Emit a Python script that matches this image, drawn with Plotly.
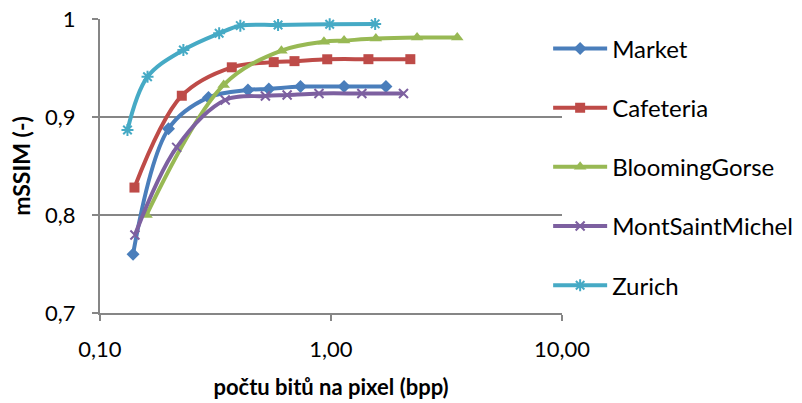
import plotly.graph_objects as go

market_x = [0.139, 0.198, 0.295, 0.437, 0.538, 0.738, 1.139, 1.729]
market_y = [0.760, 0.888, 0.920, 0.9276, 0.9286, 0.931, 0.931, 0.931]

cafeteria_x = [0.141, 0.226, 0.372, 0.565, 0.695, 0.963, 1.452, 2.205]
cafeteria_y = [0.828, 0.9217, 0.9507, 0.956, 0.957, 0.9589, 0.959, 0.959]

gorse_x = [0.159, 0.343, 0.610, 0.932, 1.139, 1.564, 2.358, 3.52]
gorse_y = [0.800, 0.9327, 0.9677, 0.9768, 0.978, 0.980, 0.981, 0.981]

msm_x = [0.1416, 0.2147, 0.3485, 0.520, 0.6457, 0.887, 1.36, 2.06]
msm_y = [0.7796, 0.869, 0.9173, 0.9214, 0.9224, 0.924, 0.924, 0.924]

zurich_x = [0.1315, 0.1606, 0.2296, 0.328, 0.405, 0.590, 0.987, 1.553]
zurich_y = [0.8867, 0.941, 0.9684, 0.9854, 0.9932, 0.9939, 0.9946, 0.995]

x_tickvals = [0.1, 1, 10]
x_ticktext = ["0,10", "1,00", "10,00"]
y_tickvals = [0.7, 0.8, 0.9, 1.0]
y_ticktext = ["0,7", "0,8", "0,9", "1"]

series = [
    ("Market", market_x, market_y, "#4A7EBB", "diamond", 10),
    ("Cafeteria", cafeteria_x, cafeteria_y, "#BE4B48", "square", 10),
    ("BloomingGorse", gorse_x, gorse_y, "#98B954", "triangle-up", 11),
    ("MontSaintMichel", msm_x, msm_y, "#7D60A0", "x-thin-open", 9),
    ("Zurich", zurich_x, zurich_y, "#46AAC5", "asterisk-open", 10),
]

fig = go.Figure()
for name, xs, ys, color, sym, size in series:
    marker = dict(symbol=sym, size=size, color=color)
    if sym.endswith("open"):
        marker["line"] = dict(color=color, width=2)
    fig.add_trace(go.Scatter(
        x=xs, y=ys, name=name, mode="lines+markers",
        line=dict(color=color, width=4, shape="spline", smoothing=1.0),
        marker=marker, legendgroup=name, cliponaxis=False,
    ))

font_family = "Lato, 'Liberation Sans', sans-serif"
fig.update_layout(
    width=802, height=403,
    margin=dict(l=100, r=240, t=19, b=90, autoexpand=False),
    paper_bgcolor="white", plot_bgcolor="white",
    separators=", ",
    font=dict(family=font_family, size=22, color="#000000"),
    showlegend=True,
    legend=dict(x=0.97, xanchor="left", y=0.975, yanchor="top",
                font=dict(size=24), itemwidth=54, tracegroupgap=25,
                bgcolor="rgba(0,0,0,0)"),
    xaxis=dict(type="log", range=[-1, 1], tickvals=x_tickvals, ticktext=x_ticktext,
               showgrid=False, showline=True, linecolor="#868686", linewidth=2,
               ticks="outside", ticklen=6, tickcolor="#868686", tickwidth=2,
               ticklabelstandoff=10, zeroline=False,
               title=dict(text="<b>počtu bitů na pixel (bpp)</b>", font=dict(size=22), standoff=18)),
    yaxis=dict(range=[0.7, 1.0], tickvals=y_tickvals, ticktext=y_ticktext,
               showgrid=True, gridcolor="#868686", gridwidth=2,
               showline=True, linecolor="#868686", linewidth=2,
               ticks="outside", ticklen=6, tickcolor="#868686", tickwidth=2,
               ticklabelstandoff=12, zeroline=False,
               title=dict(text="<b>mSSIM (-)</b>", font=dict(size=23), standoff=8)),
)

fig.write_html("out.html")
